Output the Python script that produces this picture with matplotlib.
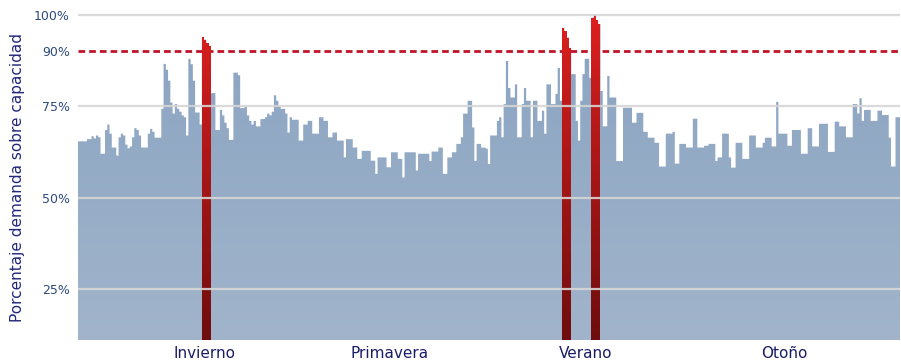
import numpy as np
import matplotlib
matplotlib.use("Agg")
import matplotlib.pyplot as plt
from matplotlib.colors import LinearSegmentedColormap

# Daily demand as a percentage of installed capacity (one value per day)
demand = [
    65.4, 65.4, 65.4, 65.4, 66.0, 66.0, 66.8, 66.2, 67.0, 66.5,
    62.0, 62.0, 68.5, 70.0, 67.5, 63.7, 63.7, 61.5, 66.5, 67.5,
    67.0, 64.5, 63.5, 64.0, 66.5, 69.0, 68.5, 67.0, 63.7, 63.7,
    63.7, 67.5, 68.8, 68.0, 66.4, 66.4, 66.4, 74.3, 86.6, 85.0,
    82.0, 76.0, 73.0, 75.6, 74.3, 73.5, 72.5, 72.0, 67.0, 88.0,
    86.5, 82.0, 73.3, 73.3, 70.0, 94.0, 93.2, 92.3, 91.5, 78.6,
    78.6, 68.5, 68.5, 74.0, 72.5, 70.5, 69.0, 65.8, 65.8, 84.2,
    84.2, 83.5, 74.5, 74.5, 75.0, 72.5, 71.0, 70.0, 71.0, 69.5,
    69.5, 71.5, 71.5, 72.0, 73.0, 72.5, 73.5, 78.0, 76.5, 75.0,
    74.3, 74.3, 73.0, 67.8, 72.0, 71.3, 71.3, 71.3, 65.6, 65.6,
    70.0, 70.0, 71.0, 71.0, 67.5, 67.5, 67.5, 72.0, 72.0, 71.0,
    71.0, 66.5, 66.5, 67.8, 67.8, 65.6, 65.6, 65.6, 61.0, 66.0,
    66.0, 66.0, 63.7, 63.7, 60.6, 60.6, 62.8, 62.8, 62.8, 62.8,
    60.1, 60.1, 56.5, 61.0, 61.0, 61.0, 61.0, 58.3, 58.3, 62.4,
    62.4, 62.4, 60.6, 60.6, 55.5, 62.4, 62.4, 62.4, 62.4, 62.4,
    57.4, 62.0, 62.0, 62.0, 62.0, 62.0, 60.0, 62.6, 62.6, 62.6,
    63.7, 63.7, 56.5, 56.5, 61.0, 61.0, 62.4, 62.4, 64.7, 64.7,
    66.5, 73.0, 73.0, 76.5, 76.5, 69.2, 60.0, 64.7, 64.7, 63.7,
    63.7, 63.4, 59.2, 67.0, 67.0, 67.0, 71.0, 72.0, 66.5, 75.6,
    87.4, 80.0, 77.4, 77.4, 81.0, 66.5, 66.5, 75.6, 80.0, 76.5,
    76.5, 66.5, 76.5, 76.5, 71.0, 71.0, 73.8, 67.5, 81.0, 81.0,
    75.6, 75.6, 78.4, 85.5, 76.5, 96.5, 95.5, 93.8, 91.0, 83.8,
    83.8, 71.0, 65.6, 76.5, 83.8, 88.0, 88.0, 82.8, 99.3, 100.0,
    98.5, 97.5, 79.2, 69.5, 69.5, 83.3, 77.4, 77.4, 77.4, 60.0,
    60.0, 60.0, 74.6, 74.6, 74.6, 74.6, 70.5, 70.5, 73.2, 73.2,
    73.2, 68.0, 68.0, 66.4, 66.4, 66.4, 65.0, 65.0, 58.5, 58.5,
    58.5, 67.5, 67.5, 67.5, 68.0, 59.3, 59.3, 64.7, 64.7, 64.7,
    63.7, 63.7, 63.7, 71.6, 71.6, 63.7, 63.7, 63.7, 64.2, 64.2,
    64.7, 64.7, 64.7, 60.0, 61.0, 61.0, 67.5, 67.5, 67.5, 61.0,
    58.2, 58.2, 65.0, 65.0, 65.0, 60.6, 60.6, 60.6, 67.0, 67.0,
    67.0, 63.7, 63.7, 63.7, 65.0, 66.4, 66.4, 66.4, 64.0, 64.0,
    76.2, 67.5, 67.5, 67.5, 67.5, 64.2, 64.2, 68.5, 68.5, 68.5,
    68.5, 62.0, 62.0, 62.0, 69.0, 69.0, 64.0, 64.0, 64.0, 70.2,
    70.2, 70.2, 70.2, 62.5, 62.5, 62.5, 70.8, 70.8, 69.5, 69.5,
    69.5, 66.5, 66.5, 66.5, 75.6, 75.6, 73.0, 77.2, 71.0, 74.0,
    74.0, 74.0, 71.0, 71.0, 71.0, 73.8, 73.8, 72.6, 72.6, 72.6,
    66.4, 58.5, 58.5, 72.0, 72.0,
]

seasons = ["Invierno", "Primavera", "Verano", "Otoño"]
season_days = [56, 138.5, 225.6, 313.5]

y_ticks = [25, 50, 75, 90, 100]
y_tick_labels = ["25%", "50%", "75%", "90%", "100%"]
threshold = 90

vals = np.asarray(demand)
n = len(vals)
y_bottom, y_top = 11, 101.5

fig = plt.figure(figsize=(9.01, 3.62), dpi=100)
ax = fig.add_axes([78 / 901, 22 / 362, 822 / 901, 330.5 / 362])
ax.set_xlim(0, n)
ax.set_ylim(y_bottom, y_top)

edges = np.arange(n + 1)
steps = np.r_[vals, vals[-1]]


def gradient_fill(xs, ys, top_color, bottom_color, z):
    poly = ax.fill_between(xs, ys, y_bottom, step="post",
                           facecolor="none", edgecolor="none", zorder=z)
    path = poly.get_paths()[0]
    cmap = LinearSegmentedColormap.from_list("g", [bottom_color, top_color])
    grad = np.linspace(0, 1, 256).reshape(-1, 1)
    img = ax.imshow(grad, cmap=cmap, origin="lower", aspect="auto",
                    extent=[0, n, y_bottom, y_top], zorder=z,
                    interpolation="bicubic")
    img.set_clip_path(path, transform=ax.transData)


# Daily demand area
gradient_fill(edges, steps, "#89a3c1", "#a1b4cb", 1)

# Threshold line
ax.axhline(threshold, color="#c01428", lw=2.0, dashes=(2.4, 1.45), zorder=2)

# Days above the threshold, highlighted in red
hot = vals >= threshold
i = 0
while i < n:
    if hot[i]:
        j = i
        while j + 1 < n and hot[j + 1]:
            j += 1
        xs = np.arange(i, j + 2)
        ys = np.r_[vals[i:j + 1], vals[j]]
        gradient_fill(xs, ys, "#e02020", "#6e0d0d", 3)
        i = j + 1
    else:
        i += 1

# Horizontal reference lines drawn over the data
for t in [25, 50, 75, 100]:
    ax.axhline(t, color="#d6d6d6", lw=1.6, alpha=0.9, zorder=4)

for s in ax.spines.values():
    s.set_visible(False)

ax.set_yticks(y_ticks)
ax.set_yticklabels(y_tick_labels)
ax.tick_params(axis="y", length=0, pad=6, labelsize=9, labelcolor="#2c4a7c")
ax.set_xticks(season_days)
ax.set_xticklabels(seasons)
ax.tick_params(axis="x", length=0, pad=4, labelsize=11, labelcolor="#1a1d66")

fig.text(18 / 901, 0.51, "Porcentaje demanda sobre capacidad", rotation=90,
         ha="center", va="center", fontsize=11, color="#22287a")

fig.savefig("out.png", dpi=100, facecolor="white")
